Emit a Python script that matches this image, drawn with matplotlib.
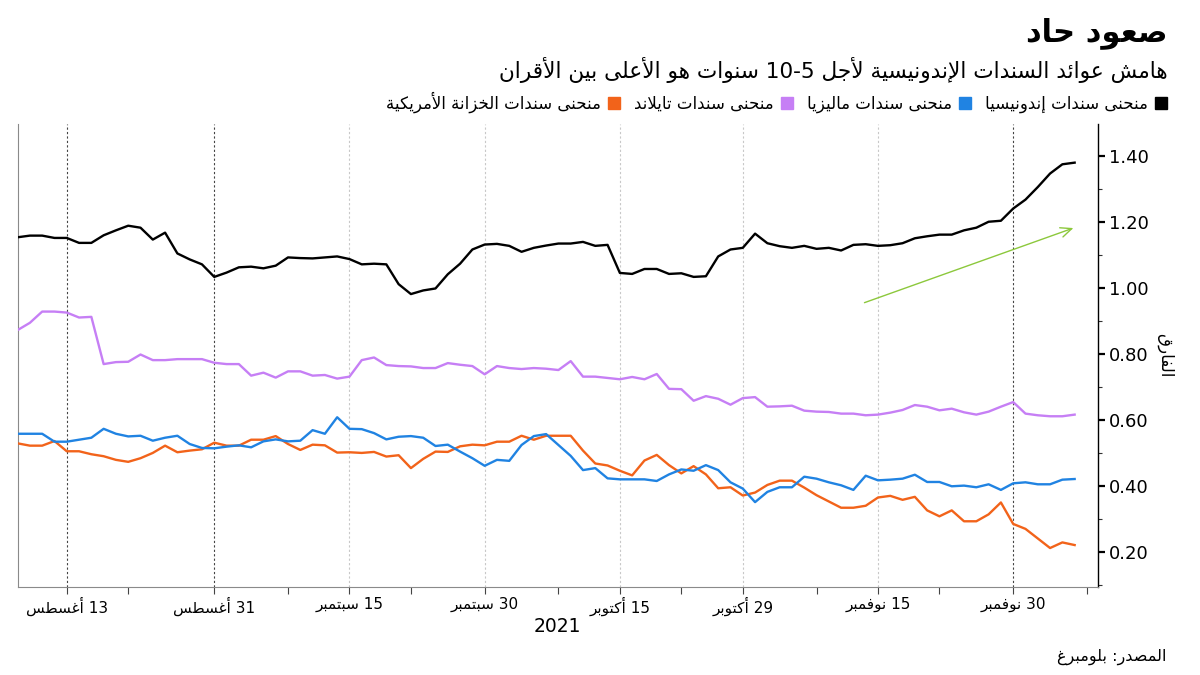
import re
import numpy as np
import pandas as pd
import matplotlib
matplotlib.use("Agg")
import matplotlib.pyplot as plt
from matplotlib.lines import Line2D
from matplotlib.ticker import FixedLocator, MultipleLocator, NullFormatter, FixedFormatter

plt.rcParams['font.family'] = ['DejaVu Sans']

# ------------------------------------------------------------------ data
title = "صعود حاد"
subtitle = "هامش عوائد السندات الإندونيسية لأجل 10-5 سنوات هو الأعلى بين الأقران"
y_label = "الفارق"
x_label = "2021"
source = "المصدر: بلومبرغ"

dates = pd.bdate_range("2021-08-09", "2021-12-07")  # business days, 87 points

name_indonesia = "منحنى سندات إندونيسيا"
name_malaysia = "منحنى سندات ماليزيا"
name_thailand = "منحنى سندات تايلاند"
name_us = "منحنى سندات الخزانة الأمريكية"

indonesia = [1.154, 1.159, 1.159, 1.152, 1.152, 1.137, 1.137, 1.160, 1.175, 1.189,
             1.183, 1.147, 1.168, 1.105, 1.087, 1.072, 1.034, 1.047, 1.063, 1.065,
             1.060, 1.068, 1.093, 1.091, 1.090, 1.093, 1.096, 1.088, 1.072, 1.074,
             1.072, 1.012, 0.982, 0.993, 0.999, 1.042, 1.074, 1.117, 1.132, 1.134,
             1.128, 1.110, 1.122, 1.129, 1.135, 1.135, 1.140, 1.128, 1.131, 1.046,
             1.043, 1.058, 1.058, 1.043, 1.045, 1.034, 1.036, 1.096, 1.117, 1.122,
             1.165, 1.136, 1.127, 1.122, 1.128, 1.119, 1.122, 1.114, 1.131, 1.133,
             1.128, 1.130, 1.136, 1.151, 1.157, 1.162, 1.162, 1.175, 1.183, 1.201,
             1.204, 1.241, 1.268, 1.306, 1.347, 1.375, 1.380]

thailand = [0.873, 0.895, 0.929, 0.929, 0.926, 0.911, 0.913, 0.770, 0.776, 0.777,
            0.799, 0.782, 0.782, 0.785, 0.785, 0.785, 0.774, 0.770, 0.770, 0.735,
            0.744, 0.729, 0.748, 0.748, 0.735, 0.737, 0.726, 0.732, 0.782, 0.790,
            0.767, 0.764, 0.763, 0.758, 0.758, 0.773, 0.768, 0.764, 0.739, 0.764,
            0.758, 0.755, 0.758, 0.756, 0.752, 0.779, 0.732, 0.732, 0.728, 0.724,
            0.731, 0.724, 0.740, 0.695, 0.694, 0.659, 0.673, 0.665, 0.647, 0.667,
            0.670, 0.641, 0.642, 0.644, 0.629, 0.626, 0.625, 0.620, 0.620, 0.615,
            0.617, 0.623, 0.631, 0.646, 0.641, 0.630, 0.635, 0.624, 0.617, 0.626,
            0.641, 0.655, 0.620, 0.615, 0.612, 0.612, 0.617]

malaysia = [0.559, 0.559, 0.559, 0.535, 0.535, 0.541, 0.547, 0.574, 0.559, 0.551,
            0.553, 0.538, 0.547, 0.553, 0.528, 0.516, 0.515, 0.520, 0.524, 0.518,
            0.536, 0.542, 0.536, 0.538, 0.570, 0.559, 0.609, 0.574, 0.573, 0.561,
            0.542, 0.550, 0.552, 0.547, 0.522, 0.526, 0.505, 0.485, 0.462, 0.480,
            0.477, 0.525, 0.552, 0.558, 0.525, 0.492, 0.449, 0.455, 0.424, 0.421,
            0.421, 0.421, 0.416, 0.436, 0.451, 0.447, 0.464, 0.449, 0.412, 0.393,
            0.352, 0.383, 0.397, 0.397, 0.429, 0.423, 0.412, 0.403, 0.389, 0.432,
            0.418, 0.420, 0.423, 0.435, 0.413, 0.413, 0.400, 0.402, 0.397, 0.406,
            0.389, 0.409, 0.412, 0.406, 0.406, 0.420, 0.422]

us_treasury = [0.530, 0.523, 0.523, 0.537, 0.506, 0.506, 0.497, 0.491, 0.480, 0.474,
               0.485, 0.501, 0.523, 0.503, 0.508, 0.512, 0.532, 0.523, 0.523, 0.541,
               0.541, 0.552, 0.528, 0.510, 0.526, 0.524, 0.502, 0.503, 0.501, 0.504,
               0.490, 0.494, 0.455, 0.483, 0.505, 0.504, 0.521, 0.526, 0.524, 0.535,
               0.535, 0.553, 0.541, 0.553, 0.553, 0.553, 0.508, 0.469, 0.463, 0.447,
               0.433, 0.478, 0.495, 0.464, 0.439, 0.461, 0.436, 0.394, 0.397, 0.372,
               0.381, 0.404, 0.417, 0.417, 0.396, 0.373, 0.354, 0.335, 0.335, 0.341,
               0.366, 0.371, 0.359, 0.368, 0.327, 0.309, 0.327, 0.294, 0.294, 0.315,
               0.351, 0.286, 0.271, 0.242, 0.213, 0.230, 0.222]

tick_dates = ["2021-08-13", "2021-08-31", "2021-09-15", "2021-09-30",
              "2021-10-15", "2021-10-29", "2021-11-15", "2021-11-30"]
tick_labels = ["13 أغسطس", "31 أغسطس", "15 سبتمبر", "30 سبتمبر",
               "15 أكتوبر", "29 أكتوبر", "15 نوفمبر", "30 نوفمبر"]
minor_tick_pos = [9, 22, 32, 44, 54, 65, 75, 87]
dark_grid_dates = ["2021-08-13", "2021-08-31", "2021-11-30"]

y_ticks = [0.20, 0.40, 0.60, 0.80, 1.00, 1.20, 1.40]

# ------------------------------------------------------------------ Arabic shaping
_BASE = {0x0621: (0xFE80, 1), 0x0622: (0xFE81, 2), 0x0623: (0xFE83, 2), 0x0624: (0xFE85, 2),
         0x0625: (0xFE87, 2), 0x0626: (0xFE89, 4), 0x0627: (0xFE8D, 2), 0x0628: (0xFE8F, 4),
         0x0629: (0xFE93, 2), 0x062A: (0xFE95, 4), 0x062B: (0xFE99, 4), 0x062C: (0xFE9D, 4),
         0x062D: (0xFEA1, 4), 0x062E: (0xFEA5, 4), 0x062F: (0xFEA9, 2), 0x0630: (0xFEAB, 2),
         0x0631: (0xFEAD, 2), 0x0632: (0xFEAF, 2), 0x0633: (0xFEB1, 4), 0x0634: (0xFEB5, 4),
         0x0635: (0xFEB9, 4), 0x0636: (0xFEBD, 4), 0x0637: (0xFEC1, 4), 0x0638: (0xFEC5, 4),
         0x0639: (0xFEC9, 4), 0x063A: (0xFECD, 4), 0x0641: (0xFED1, 4), 0x0642: (0xFED5, 4),
         0x0643: (0xFED9, 4), 0x0644: (0xFEDD, 4), 0x0645: (0xFEE1, 4), 0x0646: (0xFEE5, 4),
         0x0647: (0xFEE9, 4), 0x0648: (0xFEED, 2), 0x0649: (0xFEEF, 2), 0x064A: (0xFEF1, 4)}
_LAMALEF = {0x0622: 0xFEF5, 0x0623: 0xFEF7, 0x0625: 0xFEF9, 0x0627: 0xFEFB}


def ar(s):
    items = []
    i = 0
    while i < len(s):
        c = s[i]
        if ord(c) == 0x0644 and i + 1 < len(s) and ord(s[i + 1]) in _LAMALEF:
            items.append(('LA', _LAMALEF[ord(s[i + 1])]))
            i += 2
        else:
            items.append(('C', c))
            i += 1

    def jt(t):
        if t is None:
            return 0
        if t[0] == 'LA':
            return 2
        return _BASE.get(ord(t[1]), (0, 0))[1]

    out = []
    for k, t in enumerate(items):
        n = jt(t)
        prev = items[k - 1] if k > 0 else None
        nxt = items[k + 1] if k + 1 < len(items) else None
        jp = jt(prev) == 4
        jn = n == 4 and jt(nxt) > 1
        if t[0] == 'LA':
            out.append(chr(t[1] + (1 if jp else 0)))
        elif n == 0:
            out.append(t[1])
        else:
            base = _BASE[ord(t[1])][0]
            if n == 1:
                out.append(chr(base))
            elif n == 2:
                out.append(chr(base + (1 if jp else 0)))
            else:
                if jp and jn:
                    out.append(chr(base + 3))
                elif jp:
                    out.append(chr(base + 1))
                elif jn:
                    out.append(chr(base + 2))
                else:
                    out.append(chr(base))
    logical = ''.join(out)
    tokens = re.findall(r'[0-9]+(?:[.\-:/][0-9]+)*|.', logical)
    return ''.join(reversed(tokens))


# ------------------------------------------------------------------ figure
C_BLACK = '#000000'
C_BLUE = '#2083e2'
C_PURPLE = '#c67ff5'
C_ORANGE = '#f2631a'
C_GREEN = '#8cc83c'

fig = plt.figure(figsize=(12, 6.75), dpi=100)
ax = fig.add_axes([17.6 / 1200, 1 - 587 / 675, (1098 - 17.6) / 1200, (587 - 124) / 675])

x = np.arange(len(dates))
date_pos = {d.strftime('%Y-%m-%d'): i for i, d in enumerate(dates)}
major_pos = [date_pos[d] for d in tick_dates]

for d in tick_dates:
    p = date_pos[d]
    dark = d in dark_grid_dates
    ax.axvline(p, color='#444444' if dark else '#c8c8c8', lw=0.8,
               ls=(0, (2, 2)), zorder=0)

ax.plot(x, us_treasury, color=C_ORANGE, lw=1.7, zorder=3)
ax.plot(x, malaysia, color=C_BLUE, lw=1.7, zorder=3)
ax.plot(x, thailand, color=C_PURPLE, lw=1.7, zorder=3)
ax.plot(x, indonesia, color=C_BLACK, lw=1.7, zorder=4)

ax.annotate('', xy=(85.9, 1.182), xytext=(68.9, 0.956),
            arrowprops=dict(arrowstyle='->,head_length=0.8,head_width=0.35',
                            color=C_GREEN, lw=1.0, shrinkA=0, shrinkB=0))

ax.set_xlim(0, 87.9)
ax.set_ylim(0.095, 1.497)

ax.spines['top'].set_visible(False)
ax.spines['left'].set_color('#8a8a8a')
ax.spines['bottom'].set_color('#8a8a8a')
ax.spines['right'].set_color('#000000')
ax.spines['right'].set_linewidth(1.0)

ax.yaxis.tick_right()
ax.yaxis.set_label_position('right')
ax.yaxis.set_major_locator(FixedLocator(y_ticks))
ax.yaxis.set_major_formatter(FixedFormatter([f"{v:.2f}" for v in y_ticks]))
ax.yaxis.set_minor_locator(MultipleLocator(0.1))
ax.tick_params(axis='y', which='major', length=5, width=1.6, color='black',
               labelsize=13, pad=3, direction='out')
ax.tick_params(axis='y', which='minor', length=3, width=0.8, color='#333333',
               direction='out')

ax.xaxis.set_major_locator(FixedLocator(major_pos))
ax.xaxis.set_major_formatter(FixedFormatter([ar(t) for t in tick_labels]))
ax.xaxis.set_minor_locator(FixedLocator(minor_tick_pos))
ax.xaxis.set_minor_formatter(NullFormatter())
ax.tick_params(axis='x', which='both', length=5, width=0.8, color='#444444',
               labelsize=11, pad=2, direction='out')

ax.set_xlabel(x_label, fontsize=13.5, labelpad=1)
ax.set_ylabel(ar(y_label), fontsize=12, rotation=270, labelpad=18)

# titles
fig.text(1168 / 1200, 1 - 33 / 675, ar(title), ha='right', va='center',
         fontsize=22, fontweight='bold')
fig.text(1168 / 1200, 1 - 70 / 675, ar(subtitle), ha='right', va='center',
         fontsize=15.6)
fig.text(1166 / 1200, 1 - 657 / 675, ar(source), ha='right', va='center',
         fontsize=11.5)

# legend (RTL: square on the right of each label)
handles = [Line2D([], [], ls='none', marker='s', ms=9, color=c)
           for c in [C_ORANGE, C_PURPLE, C_BLUE, C_BLACK]]
labels = [ar(n) for n in [name_us, name_thailand, name_malaysia, name_indonesia]]
fig.legend(handles, labels, loc='center right', bbox_to_anchor=(1168 / 1200, 1 - 102 / 675),
           ncol=4, frameon=False, markerfirst=False, fontsize=12,
           handlelength=0.8, handletextpad=0.4, columnspacing=0.8,
           borderaxespad=0, borderpad=0)

fig.savefig('out.png', dpi=100)
